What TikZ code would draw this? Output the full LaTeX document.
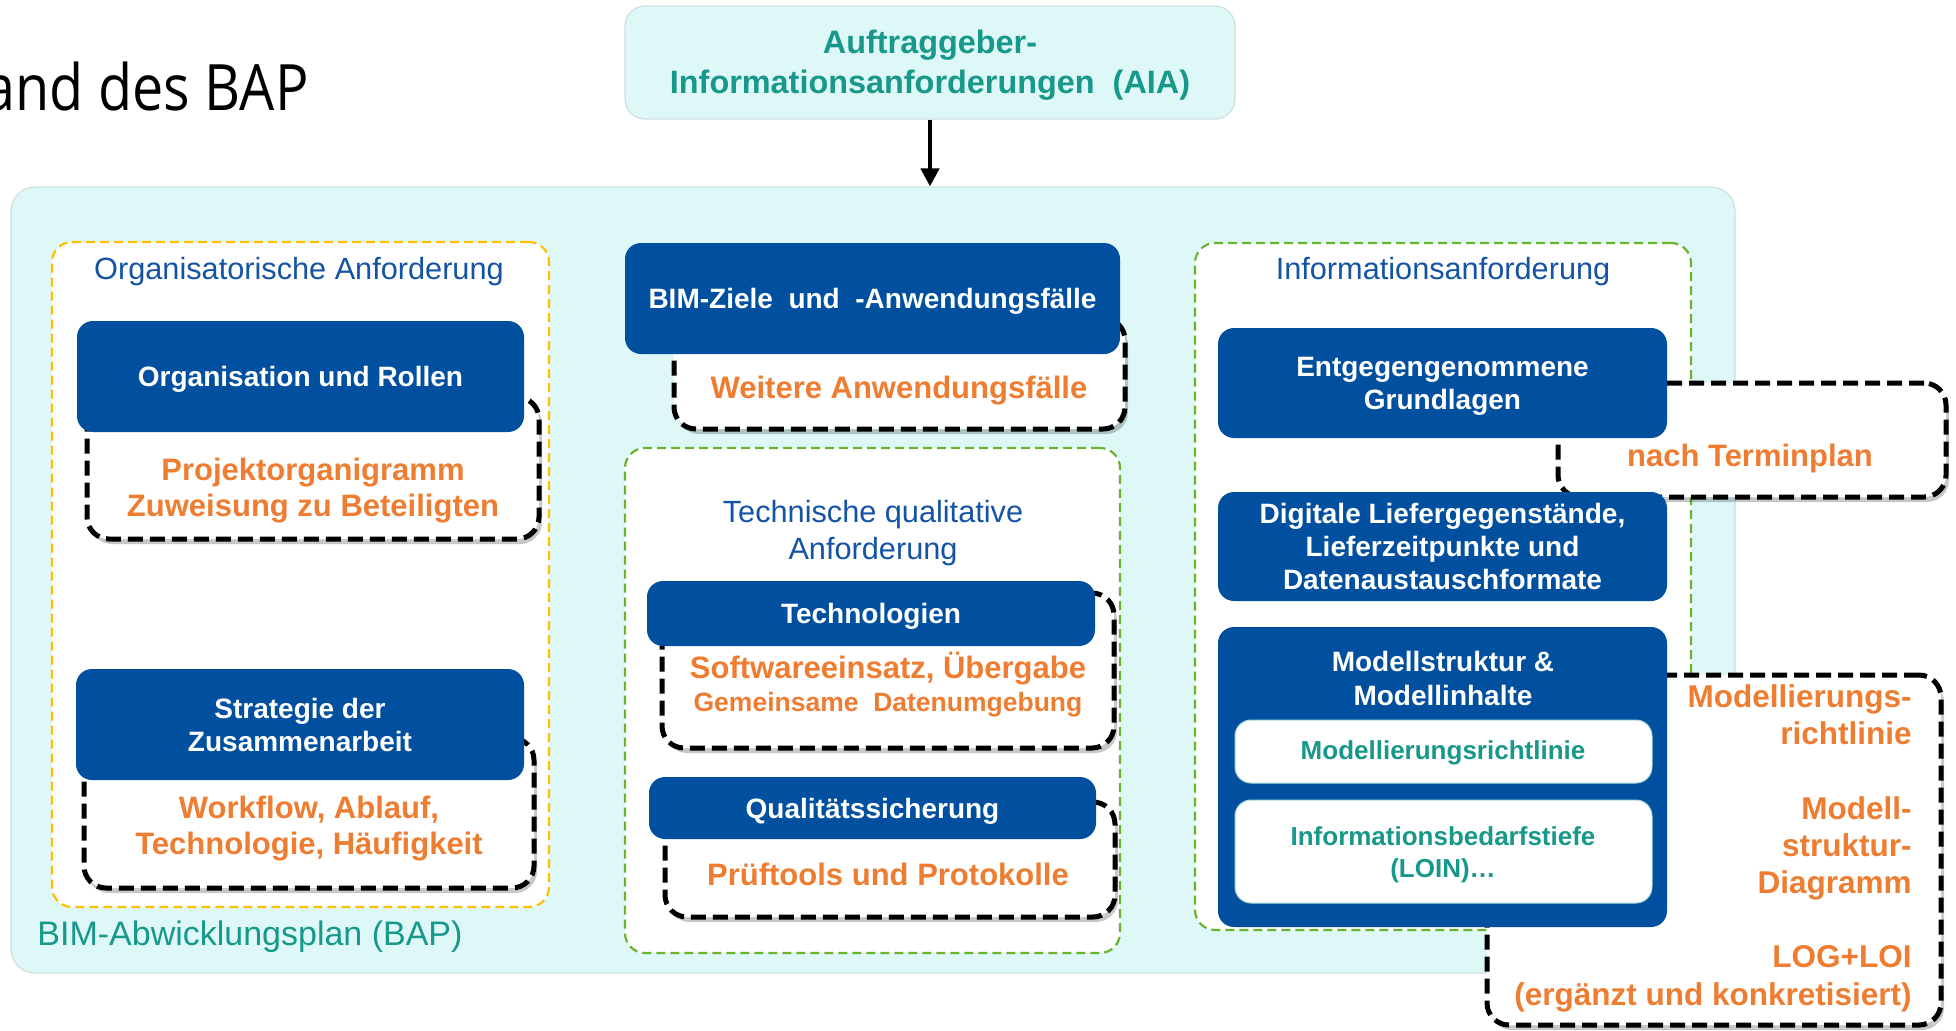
\documentclass[tikz,border=0pt]{standalone}
\usepackage{fontspec}
\setmainfont{Liberation Sans}
\newfontfamily\titlefont[FakeStretch=0.87]{Open Sans}
\usetikzlibrary{shadows,arrows.meta}

\definecolor{bapblue}{HTML}{00509F}
\definecolor{bapcyan}{HTML}{DEF8F8}
\definecolor{bapedge}{HTML}{CFDFDF}
\definecolor{bapteal}{HTML}{17988A}
\definecolor{baporange}{HTML}{EE7D31}
\definecolor{headblue}{HTML}{1553A5}
\definecolor{grpyellow}{HTML}{FFC000}
\definecolor{grpgreen}{HTML}{6AB42D}

\newcommand\fs[2]{\fontsize{#1}{#2}\selectfont}

% box given by its corners in pixel units: style, name, x1, y1, x2, y2, text
\newcommand\cornerbox[7]{%
  \pgfmathsetlengthmacro\cbw{(#5-#3)*0.5pt}%
  \pgfmathsetlengthmacro\cbh{(#6-#4)*0.5pt}%
  \node[#1, minimum width=\cbw, minimum height=\cbh] (#2) at ({(#3+#5)/2},{(#4+#6)/2}) {#7};}

\tikzset{
  container/.style={fill=bapcyan, draw=bapedge, line width=0.6pt, rounded corners=12pt, inner sep=0pt},
  groupbox/.style={fill=white, line width=1.1pt, dash pattern=on 4.5pt off 2.5pt, rounded corners=10pt, inner sep=0pt},
  bluebox/.style={fill=bapblue, rounded corners=8pt, text=white, font=\bfseries\fs{14}{16.5}, align=center, inner sep=0pt, text depth=0pt},
  whitebox/.style={fill=white, draw=bapcyan!70!bapteal, line width=0.5pt, rounded corners=8pt, inner sep=0pt},
  dashbox/.style={fill=white, draw=black, line width=2.5pt, dash pattern=on 7.5pt off 3.5pt, rounded corners=11pt, inner sep=0pt,
    drop shadow={shadow xshift=1.5pt, shadow yshift=-2.5pt, fill=black, opacity=0.22}},
  orangetxt/.style={text=baporange, font=\bfseries\fs{15.5}{18}, align=center, inner sep=0pt},
  headtxt/.style={text=headblue, font=\fs{15.35}{18.5}, align=center, inner sep=0pt},
  tealtxt/.style={text=bapteal, font=\bfseries\fs{13}{16}, align=center, inner sep=0pt},
}

\begin{document}
\begin{tikzpicture}[x=0.5pt, y=-0.5pt]
\useasboundingbox (0,0) rectangle (1956,1030);
\clip (0,0) rectangle (1956,1030);

% main plan area and the client requirements on top
\cornerbox{container}{bap}{11}{187}{1735}{973}{}
\cornerbox{container, rounded corners=10pt}{aia}{625}{6}{1235}{119}{}
% (base anchor of a multi-line node = baseline of its last line)
\node[text=bapteal, font=\bfseries\fs{16.2}{20}, align=center, inner sep=0pt, anchor=base]
  (aiatext) at (930,93) {Auftraggeber-\\Informationsanforderungen\ \ (AIA)};
\draw[line width=2.2pt, -{Triangle[width=9pt,length=9pt]}] (aia.south) -- (aia.south |- bap.north);

\node[font=\titlefont\fs{32}{38}, anchor=base east, inner sep=0pt] (title) at (309,110) {and des BAP};
\node[text=bapteal, font=\fs{17}{20}, anchor=base west, inner sep=0pt] (baplabel) at (37,945) {BIM-Abwicklungsplan (BAP)};

% requirement groups
\cornerbox{groupbox, draw=grpyellow}{orggrp}{52}{242}{549}{907}{}
\cornerbox{groupbox, draw=grpgreen}{techgrp}{625}{448}{1120}{953}{}
\cornerbox{groupbox, draw=grpgreen}{infogrp}{1195}{243}{1691}{930}{}

% detail boxes behind the headers
\cornerbox{dashbox}{dorg}{87}{397}{539}{539}{}
\cornerbox{dashbox}{dstrat}{84}{738}{534}{888}{}
\cornerbox{dashbox}{dziele}{674}{318}{1125}{429}{}
\cornerbox{dashbox}{dtech}{662}{593}{1114}{748}{}
\cornerbox{dashbox}{dquali}{665}{802}{1115}{917}{}
\cornerbox{dashbox}{dtermin}{1558}{383}{1946}{497}{}
\cornerbox{dashbox}{dmodell}{1487}{675}{1941}{1025}{}

% headers
\cornerbox{bluebox}{orgrollen}{77}{321}{524}{432}{Organisation und Rollen}
\cornerbox{bluebox}{strategie}{76}{669}{524}{780}{Strategie der\\Zusammenarbeit}
\cornerbox{bluebox}{bimziele}{625}{243}{1120}{354}{BIM-Ziele\ \ und\ \ -Anwendungsfälle}
\cornerbox{bluebox}{technologien}{647}{581}{1095}{646}{Technologien}
\cornerbox{bluebox}{quali}{649}{777}{1096}{839}{Qualitätssicherung}
\cornerbox{bluebox}{entgegen}{1218}{328}{1667}{438}{Entgegengenommene\\Grundlagen}
\cornerbox{bluebox}{digitale}{1218}{492}{1667}{601}{Digitale Liefergegenstände,\\Lieferzeitpunkte und\\Datenaustauschformate}
\cornerbox{bluebox}{modell}{1218}{627}{1667}{927}{}
\node[text=white, font=\bfseries\fs{14}{17}, align=center, inner sep=0pt, anchor=base] (modelltext) at (1443,705) {Modellstruktur \&\\Modellinhalte};
\cornerbox{whitebox}{richtlinie}{1235}{720}{1652}{783}{}
\cornerbox{whitebox}{loin}{1235}{800}{1652}{903}{}
\node[tealtxt, anchor=base] (richtlinietext) at (1443,759) {Modellierungsrichtlinie};
\node[tealtxt, anchor=base] (lointext) at (1443,877) {Informationsbedarfstiefe\\(LOIN)…};

% group titles
\node[headtxt, anchor=base] (orghead) at (299,279) {Organisatorische Anforderung};
\node[headtxt, anchor=base] (techhead) at (873,559) {Technische qualitative\\Anforderung};
\node[headtxt, anchor=base] (infohead) at (1443,279) {Informationsanforderung};

% detail texts
\node[orangetxt, anchor=base] (orgtext) at (313,516) {Projektorganigramm\\Zuweisung zu Beteiligten};
\node[orangetxt, anchor=base] (strattext) at (309,854) {Workflow, Ablauf,\\Technologie, Häufigkeit};
\node[orangetxt, anchor=base] (zieletext) at (899,398) {Weitere Anwendungsfälle};
\node[orangetxt, anchor=base] (techtext) at (888,678) {Softwareeinsatz, Übergabe};
\node[text=baporange, font=\bfseries\fs{13.25}{16}, anchor=base, inner sep=0pt] (cdetext) at (888,711) {Gemeinsame\ \ Datenumgebung};
\node[orangetxt, anchor=base] (qualitext) at (888,885) {Prüftools und Protokolle};
\node[orangetxt, anchor=base] (termintext) at (1750,466) {nach Terminplan};
\node[text=baporange, font=\bfseries\fs{15.75}{18.6}, align=right, anchor=base east, inner sep=0pt] (modellinfo) at (1912,1005)
  {Modellierungs-\\richtlinie\\[18.6pt]Modell-\\struktur-\\Diagramm\\[18.6pt]LOG+LOI\\(ergänzt und konkretisiert)};
\end{tikzpicture}
\end{document}
